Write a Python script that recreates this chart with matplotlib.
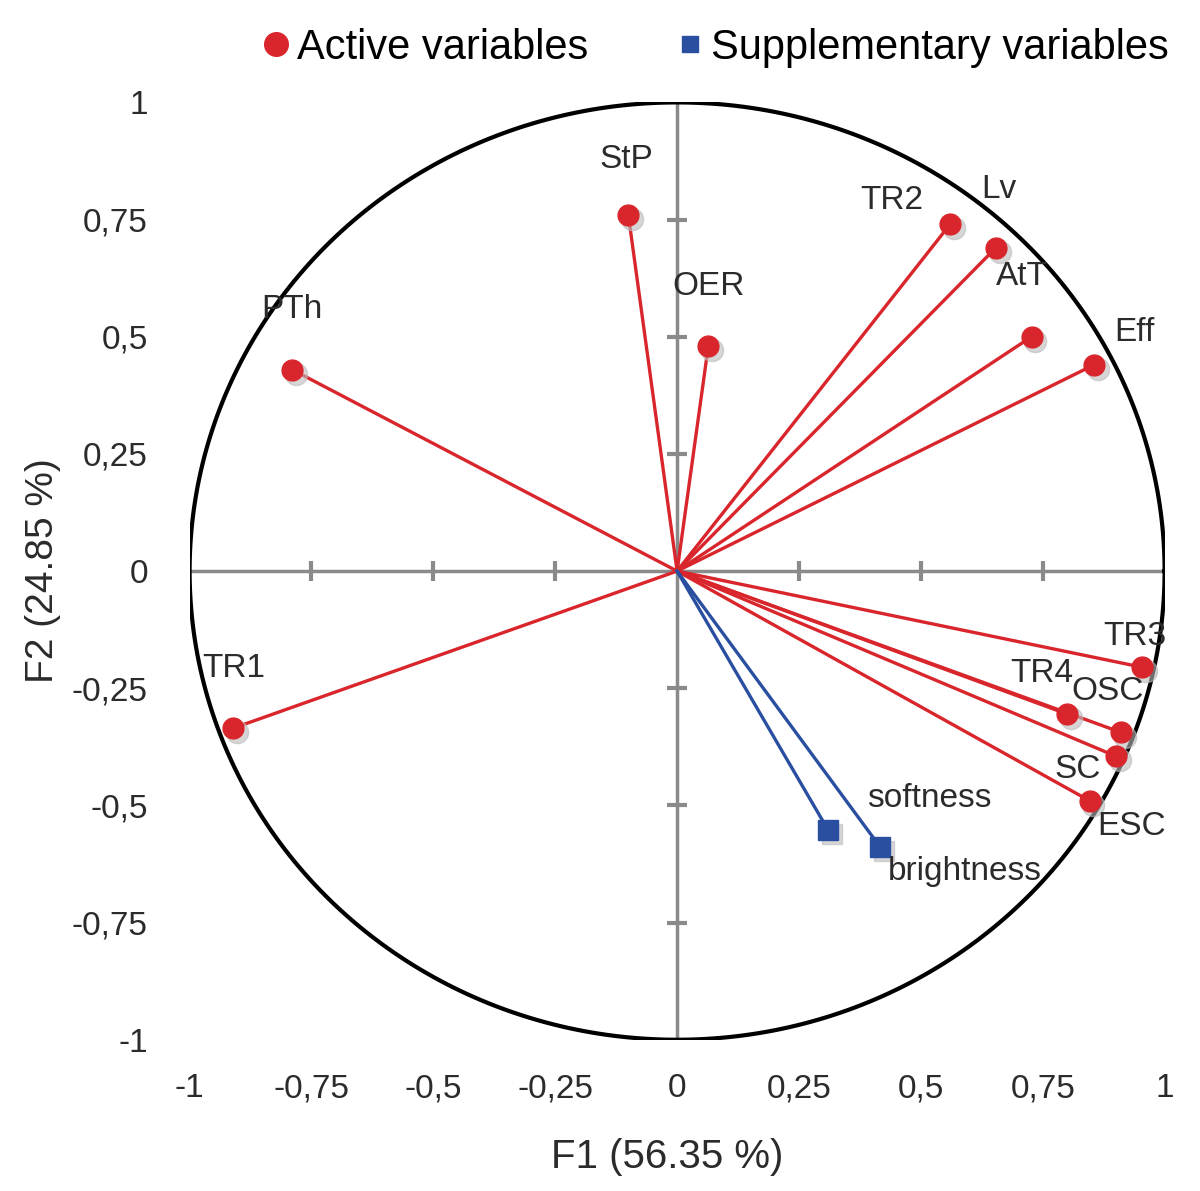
import numpy as np
import matplotlib.pyplot as plt
from matplotlib.lines import Line2D

# active variables (F1, F2)
act_names = ['StP', 'OER', 'PTh', 'TR1', 'TR2', 'Lv', 'AtT', 'Eff',
             'TR3', 'TR4', 'OSC', 'SC', 'ESC']
act_f1 = [-0.10, 0.064, -0.79, -0.91, 0.56, 0.654, 0.727, 0.855,
          0.953, 0.80, 0.91, 0.90, 0.846]
act_f2 = [0.76, 0.48, 0.43, -0.335, 0.74, 0.69, 0.50, 0.44,
          -0.205, -0.305, -0.344, -0.395, -0.49]
# supplementary variables
sup_names = ['softness', 'brightness']
sup_f1 = [0.31, 0.416]
sup_f2 = [-0.553, -0.588]

ticks = [-1, -0.75, -0.5, -0.25, 0, 0.25, 0.5, 0.75, 1]
tick_lbl = ['-1', '-0,75', '-0,5', '-0,25', '0', '0,25', '0,5', '0,75', '1']

# label offsets in pixels
act_off = [(-2, 55), (0, 60), (0, 60), (0, 60), (-58, 24), (3, 58), (-10, 60),
           (41, 32), (-7, 31), (-25, 41), (-13, 41), (-38, -13), (42, -26)]
sup_off = [(101, 32), (85, -25)]

red = '#d9262c'
blue = '#2a4fa0'
txt = '#2b2b2b'
plt.rcParams['font.family'] = ['Liberation Sans', 'DejaVu Sans']

fig = plt.figure(figsize=(12, 11.91), dpi=100)
ax = fig.add_axes([0.158, 0.127, 0.8125, 0.787])
ax.set_xlim(-1, 1)
ax.set_ylim(-1, 1)
for s in ax.spines.values():
    s.set_visible(False)
ax.set_xticks(ticks)
ax.set_xticklabels(tick_lbl, fontsize=24)
ax.set_yticks(ticks)
ax.set_yticklabels(tick_lbl, fontsize=24)
ax.tick_params(length=0, colors=txt)
ax.tick_params(axis='y', pad=30)
ax.tick_params(axis='x', pad=24)

# axes through origin
ax.axhline(0, color='#8a8a8a', lw=2.5, zorder=1)
ax.axvline(0, color='#8a8a8a', lw=2.5, zorder=1)
mt = [t for t in ticks if abs(t) not in (0, 1)]
ax.plot(mt, [0]*len(mt), ls='none', marker='|', ms=14, mew=3, color='#8a8a8a', zorder=1)
ax.plot([0]*len(mt), mt, ls='none', marker='_', ms=14, mew=3, color='#8a8a8a', zorder=1)

# circle
th = np.linspace(0, 2*np.pi, 400)
ax.plot(np.cos(th), np.sin(th), color='black', lw=3, zorder=2)

# vectors
for x, y in zip(act_f1, act_f2):
    ax.plot([0, x], [0, y], color=red, lw=2.4, zorder=3)
for x, y in zip(sup_f1, sup_f2):
    ax.plot([0, x], [0, y], color=blue, lw=2.4, zorder=3)

# shadows + markers
ax.plot(np.array(act_f1)+0.008, np.array(act_f2)-0.009, 'o', ms=16, color='#bbbbbb', alpha=0.6, zorder=3)
ax.plot(np.array(sup_f1)+0.008, np.array(sup_f2)-0.009, 's', ms=15, color='#bbbbbb', alpha=0.6, zorder=3)
ax.plot(act_f1, act_f2, 'o', ms=15, color=red, zorder=4)
ax.plot(sup_f1, sup_f2, 's', ms=14, color=blue, zorder=4)

for n, x, y, o in zip(act_names, act_f1, act_f2, act_off):
    ax.annotate(n, (x, y), xytext=o, textcoords='offset pixels',
                ha='center', va='center', fontsize=24, color=txt, zorder=5)
for n, x, y, o in zip(sup_names, sup_f1, sup_f2, sup_off):
    ax.annotate(n, (x, y), xytext=o, textcoords='offset pixels',
                ha='center', va='center', fontsize=24, color=txt, zorder=5)

ax.set_xlabel('F1 (56.35 %)', fontsize=29, color=txt, labelpad=28)
ax.xaxis.set_label_coords(0.49, -0.105)
ax.set_ylabel('F2 (24.85 %)', fontsize=28, color=txt, labelpad=8)

handles = [Line2D([], [], ls='none', marker='o', ms=17, color=red),
           Line2D([], [], ls='none', marker='s', ms=12, color=blue)]
fig.legend(handles, ['Active variables', 'Supplementary variables'],
           loc='center', bbox_to_anchor=(0.594, 0.96), ncol=2, frameon=False,
           fontsize=30, handletextpad=0.05, columnspacing=2.0, handlelength=0.9)

plt.savefig('out.png', dpi=100)
